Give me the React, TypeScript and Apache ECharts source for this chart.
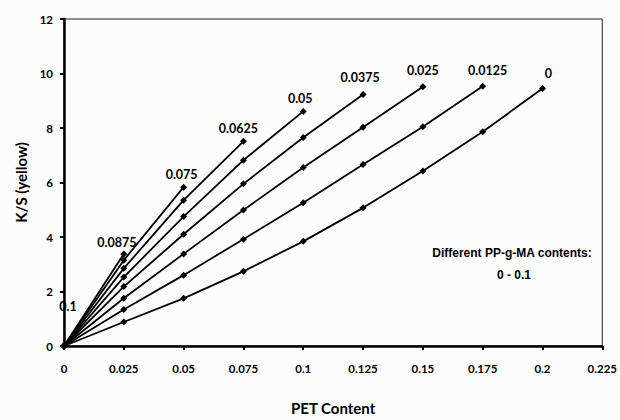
import React, { useEffect, useRef } from "react";
import * as echarts from "echarts";

const PET_CONTENT = [0, 0.025, 0.05, 0.075, 0.1, 0.125, 0.15, 0.175, 0.2];
const GROUP_NAMES = ["0", "0.0125", "0.025", "0.0375", "0.05", "0.0625", "0.075", "0.0875", "0.1"];
const KS_0 = [0, 0.88, 1.75, 2.74, 3.84, 5.07, 6.42, 7.86, 9.45];
const KS_00125 = [0, 1.34, 2.6, 3.92, 5.26, 6.66, 8.05, 9.53];
const KS_0025 = [0, 1.75, 3.38, 4.99, 6.55, 8.03, 9.51];
const KS_00375 = [0, 2.18, 4.1, 5.95, 7.65, 9.23];
const KS_005 = [0, 2.53, 4.75, 6.82, 8.61];
const KS_00625 = [0, 2.85, 5.35, 7.51];
const KS_0075 = [0, 3.15, 5.83];
const KS_00875 = [0, 3.38];
const KS_01 = [0];
const X_TICKS = ["0", "0.025", "0.05", "0.075", "0.1", "0.125", "0.15", "0.175", "0.2", "0.225"];

const SERIES_VALUES = [KS_0, KS_00125, KS_0025, KS_00375, KS_005, KS_00625, KS_0075, KS_00875, KS_01];

// label offsets (layout only)
const LABEL_OFFSETS: [number, number][] = [
  [6, 0],
  [5, -1],
  [0, -1],
  [-3, -2],
  [-3, 2],
  [-5, 2],
  [-2, 2],
  [-7, 4],
  [4, -25],
];

const FONT = "Lato, 'Open Sans', sans-serif";

export default function App() {
  const ref = useRef<HTMLDivElement>(null);
  useEffect(() => {
    if (!ref.current) return;
    const chart = echarts.init(ref.current, undefined, { renderer: "svg" });
    const series = SERIES_VALUES.map((vals, si) => ({
      type: "line",
      name: GROUP_NAMES[si],
      symbol: "diamond",
      symbolSize: 7,
      showAllSymbol: true,
      lineStyle: { color: "#000", width: 1.8 },
      itemStyle: { color: "#000" },
      data: vals.map((v, i) => {
        const pt: any = { value: [PET_CONTENT[i], v] };
        if (i === vals.length - 1) {
          pt.label = {
            show: true,
            position: "top",
            formatter: GROUP_NAMES[si],
            offset: LABEL_OFFSETS[si],
            color: "#000",
            fontFamily: FONT,
            fontWeight: "bold",
            fontSize: 12.5,
          };
        }
        return pt;
      }),
      z: 3,
    }));
    chart.setOption({
      animation: false,
      backgroundColor: "#fcfcfc",
      grid: {
        left: 64,
        right: 14,
        top: 19,
        bottom: 67,
        show: true,
        borderColor: "#222",
        borderWidth: 1,
        backgroundColor: "transparent",
      },
      xAxis: {
        type: "value",
        min: 0,
        max: 0.225,
        interval: 0.025,
        name: "PET Content",
        nameLocation: "middle",
        nameGap: 54,
        nameTextStyle: { color: "#000", fontFamily: FONT, fontWeight: "bold", fontSize: 15 },
        axisLine: { show: true, onZero: false, lineStyle: { color: "#000", width: 2.5 } },
        axisTick: { show: true, length: 4, lineStyle: { color: "#000", width: 2 } },
        splitLine: { show: false },
        axisLabel: {
          margin: 16,
          color: "#000",
          fontFamily: FONT,
          fontWeight: "bold",
          fontSize: 11.5,
          formatter: (v: number) => X_TICKS[Math.round(v / 0.025)] ?? String(v),
        },
      },
      yAxis: {
        type: "value",
        min: 0,
        max: 12,
        interval: 2,
        name: "K/S (yellow)",
        nameLocation: "middle",
        nameGap: 33,
        nameTextStyle: { color: "#000", fontFamily: FONT, fontWeight: "bold", fontSize: 15 },
        axisLine: { show: true, lineStyle: { color: "#000", width: 2.5 } },
        axisTick: { show: true, length: 4, lineStyle: { color: "#000", width: 2 } },
        splitLine: { show: false },
        axisLabel: {
          margin: 11,
          color: "#000",
          fontFamily: FONT,
          fontWeight: "bold",
          fontSize: 11.5,
        },
      },
      graphic: [
        {
          type: "text",
          x: 512,
          y: 253,
          style: {
            text: "Different PP-g-MA contents:",
            fill: "#000",
            font: "bold 12px 'Liberation Sans', Arial, sans-serif",
            align: "center",
            verticalAlign: "middle",
          },
        },
        {
          type: "text",
          x: 514,
          y: 275,
          style: {
            text: "0 - 0.1",
            fill: "#000",
            font: "bold 12px 'Liberation Sans', Arial, sans-serif",
            align: "center",
            verticalAlign: "middle",
          },
        },
      ],
      series,
    });
    return () => chart.dispose();
  }, []);
  return <div ref={ref} style={{ position: "fixed", left: 0, top: 0, width: 620, height: 420 }} />;
}
